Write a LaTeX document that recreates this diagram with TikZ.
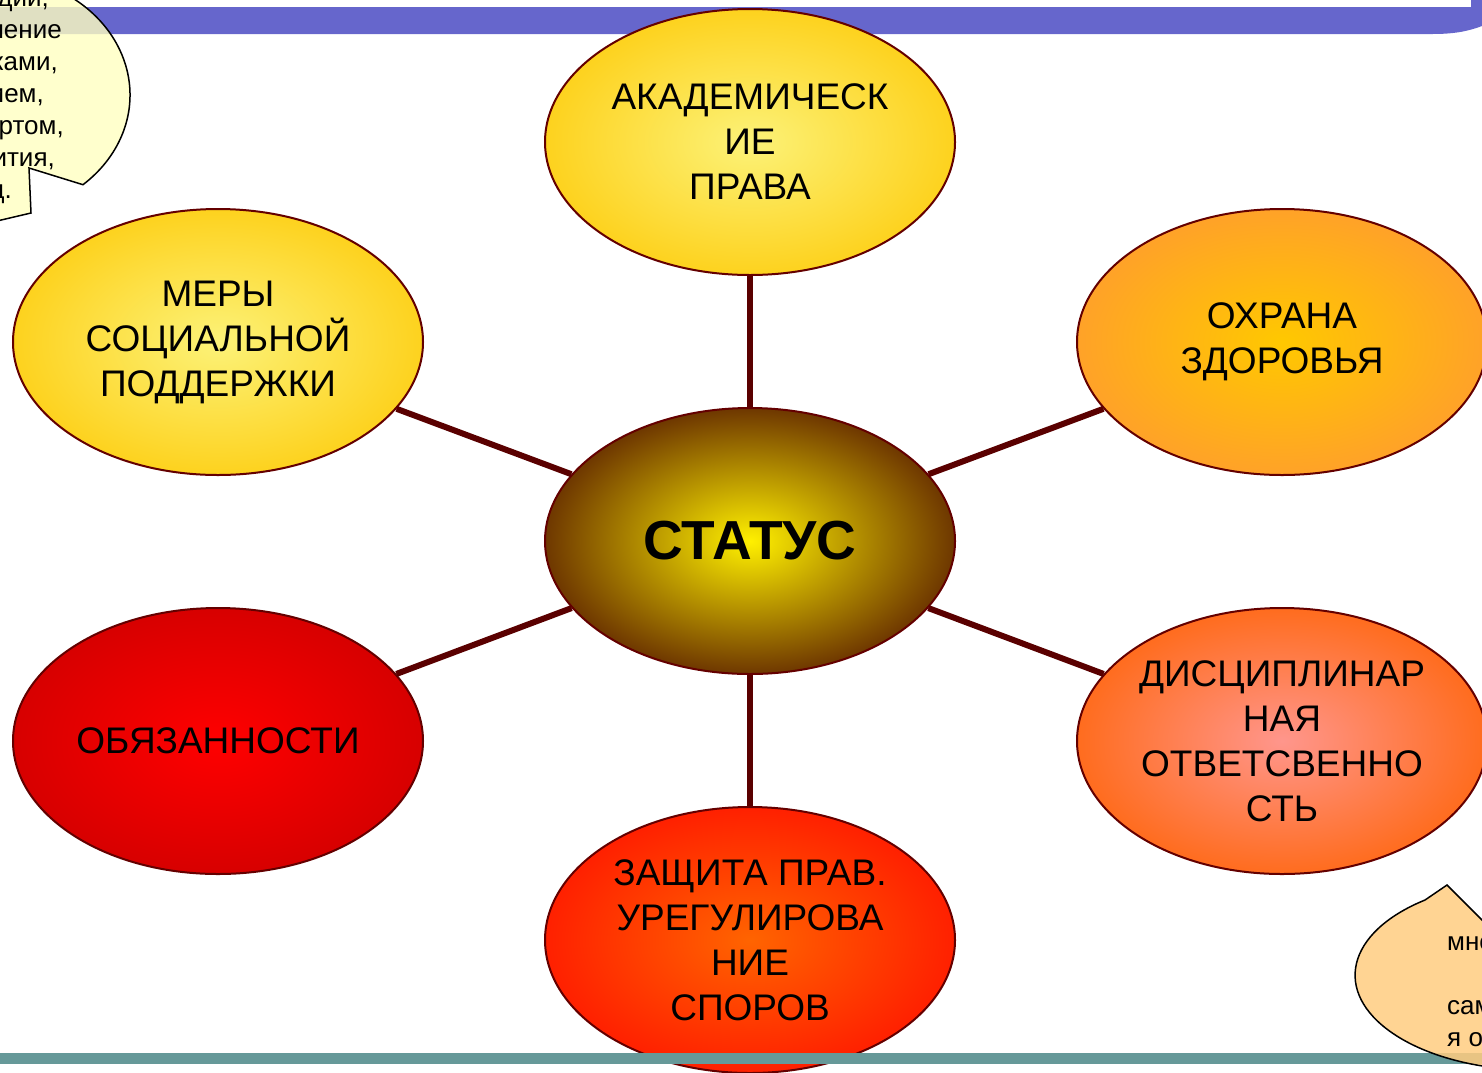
\documentclass[tikz,border=0pt]{standalone}
\usepackage{fontspec}
\setmainfont{Liberation Sans}
\usetikzlibrary{shapes.geometric}

\definecolor{barblue}{RGB}{102,102,204}
\definecolor{barteal}{RGB}{102,153,153}
\definecolor{rim}{RGB}{100,0,0}
\definecolor{spokered}{RGB}{90,0,0}
\definecolor{noteyellow}{RGB}{255,255,192}
\definecolor{notepeach}{RGB}{255,204,128}

\tikzset{
  blob/.style={ellipse, draw=rim, line width=2pt, minimum width=410pt,
    minimum height=266pt, inner sep=0pt, align=center,
    font=\fontsize{37}{45}\selectfont},
  spoke/.style={draw=spokered, line width=6pt},
  notetext/.style={font=\fontsize{26}{32}\selectfont, inner sep=0pt}
}

\begin{document}
\begin{tikzpicture}[x=1pt, y=-1pt]
\useasboundingbox (0,0) rectangle (1482,1072);

% header strip
\fill[barblue] (0,7) -- (1471,7) -- (1471,0) -- (1482,0) -- (1482,26)
  .. controls (1466,32) and (1452,34) .. (1432,34) -- (0,34) -- cycle;

\node[blob, inner color={rgb,255:red,252;green,242;blue,120}, outer color={rgb,255:red,253;green,210;blue,30}] (akad) at (750,142) {АКАДЕМИЧЕСК\\ИЕ\\ПРАВА};
\node[blob, inner color={rgb,255:red,252;green,242;blue,120}, outer color={rgb,255:red,253;green,210;blue,30}] (mery) at (218,342) {МЕРЫ\\СОЦИАЛЬНОЙ\\ПОДДЕРЖКИ};
\node[blob, inner color={rgb,255:red,255;green,200;blue,0}, outer color={rgb,255:red,255;green,162;blue,40}] (okhrana) at (1282,342) {ОХРАНА\\ЗДОРОВЬЯ};
\node[blob, inner color={rgb,255:red,255;green,240;blue,0}, outer color={rgb,255:red,110;green,55;blue,0},
  font=\fontsize{55}{60}\selectfont\bfseries] (status) at (750,541) {СТАТУС};
\node[blob, inner color={rgb,255:red,255;green,0;blue,0}, outer color={rgb,255:red,215;green,0;blue,0}] (obyaz) at (218,741) {ОБЯЗАННОСТИ};
\node[blob, inner color={rgb,255:red,255;green,150;blue,140}, outer color={rgb,255:red,255;green,108;blue,30}] (disc) at (1282,741) {ДИСЦИПЛИНАР\\НАЯ\\ОТВЕТСВЕННО\\СТЬ};
\node[blob, inner color={rgb,255:red,255;green,100;blue,0}, outer color={rgb,255:red,255;green,32;blue,0}] (zashch) at (750,940) {ЗАЩИТА ПРАВ.\\УРЕГУЛИРОВА\\НИЕ\\СПОРОВ};

\draw[spoke] (status) -- (akad);
\draw[spoke] (status) -- (mery);
\draw[spoke] (status) -- (okhrana);
\draw[spoke] (status) -- (obyaz);
\draw[spoke] (status) -- (disc);
\draw[spoke] (status) -- (zashch);

% footer strip
\fill[barteal] (0,1053) rectangle (1482,1064);

% callouts cut by the page
\filldraw[fill=noteyellow, fill opacity=0.8, draw=black, line width=1.5pt]
  (37.9,-17.8) arc[start angle=-70, end angle=48.4, x radius=140, y radius=120]
  -- (29,168) -- (31,213) -- (-20,225) -- (-20,-30) -- cycle;
\node[notetext, anchor=base east] (n1) at (49,6) {дий,};
\node[notetext, anchor=base east] (n2) at (62,38) {ление};
\node[notetext, anchor=base east] (n3) at (58,70) {ками,};
\node[notetext, anchor=base east] (n4) at (44,102) {ием,};
\node[notetext, anchor=base east] (n5) at (64,134) {ртом,};
\node[notetext, anchor=base east] (n6) at (55,166) {ития,};
\node[notetext, anchor=base east] (n7) at (12,198) {д.};

\filldraw[fill=notepeach, fill opacity=0.85, draw=black, line width=1.5pt]
  (1447,885) -- (1425,900) arc[start angle=-127.7, end angle=-330, x radius=180, y radius=95]
  -- (1600,1038) -- cycle;
\node[notetext, anchor=base west] (m1) at (1447,950) {мно};
\node[notetext, anchor=base west] (m2) at (1447,1014) {сам};
\node[notetext, anchor=base west] (m3) at (1447,1046) {я о};
\end{tikzpicture}
\end{document}
